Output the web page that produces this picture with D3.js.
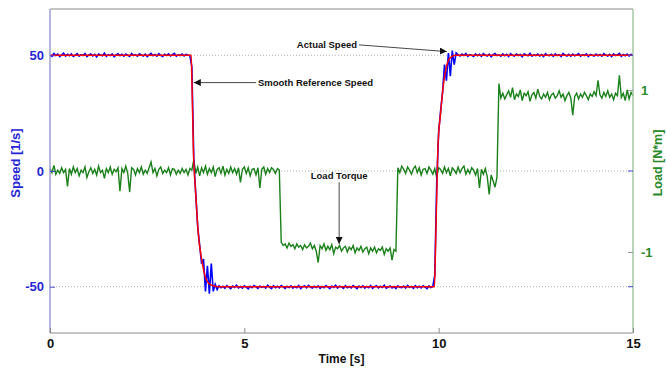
<!DOCTYPE html>
<html>
<head>
<meta charset="utf-8">
<script src="https://cdn.jsdelivr.net/npm/d3@7/dist/d3.min.js"></script>
<style>
  body { margin: 0; background: #fff; }
  svg { display: block; font-family: "Liberation Sans", Arial, sans-serif; }
</style>
</head>
<body>
<div id="chart"></div>
<script>
// sample step of the measured signals [s]
var dt = 0.05;

// actual speed [1/s], one value every dt
var actualSpeed = [
  50.3, 49.6, 50.8, 49.9, 50.5, 49.4, 50.2, 50.9, 49.7, 50.4, 49.8, 50.6, 49.5, 50.1, 50.7, 49.6, 50.3, 49.9, 50.8, 49.5,
  50.2, 50.6, 49.7, 50.4, 49.3, 50.5, 50.1, 49.8, 50.9, 49.6, 50.3, 49.9, 50.6, 49.4, 50.2, 50.7, 49.8, 50.4, 49.6, 50.5,
  50.0, 49.5, 50.8, 49.9, 50.3, 49.6, 50.6, 50.1, 49.7, 50.5, 49.4, 50.2, 50.8, 49.8, 50.3, 49.6, 50.7, 50.0, 49.5, 50.4,
  49.9, 50.6, 49.7, 50.3, 50.8, 49.6, 50.2, 49.9, 50.5, 49.7, 50.4, 50.1, 49.8,
  45, 5, -10, -24, -32, -40, -38, -52, -41, -53, -40, -52, -49, -51.2,
  -49.6, -50.4, -49.8, -50.7, -49.5, -50.2, -50.8, -49.7, -50.3, -49.4,
  -50.5, -49.9, -50.6, -49.6, -50.2, -50.9, -49.8, -50.4, -49.5, -50.1,
  -50.7, -49.7, -50.3, -49.9, -50.6, -49.4, -50.2, -50.8, -49.6, -50.4,
  -49.8, -50.5, -49.5, -50.1, -50.7, -49.8, -50.3, -49.6, -50.6, -49.9,
  -50.4, -49.5, -50.8, -50.0, -49.7, -50.5, -49.4, -50.2, -50.6, -49.8,
  -50.3, -49.6, -50.7, -49.9, -50.4, -49.5, -50.2, -50.8, -49.7, -50.3,
  -49.4, -50.6, -49.8, -50.1, -50.7, -49.6, -50.4, -49.9, -50.5, -49.5,
  -50.2, -50.8, -49.7, -50.3, -49.6, -50.6, -49.9, -50.4, -49.5, -50.7,
  -50.0, -49.6, -50.5, -49.8, -50.3, -49.4, -50.6, -50.1, -49.7, -50.5,
  -49.9, -50.8, -49.6, -50.2, -50.4, -49.7, -50.6, -49.5, -50.3, -49.9,
  -50.7, -49.6, -50.4, -49.8, -50.5, -49.6, -50.2, -50.8, -49.7, -50.4, -49.9,
  -45, -5, 17, 26, 34, 46, 39, 51, 41, 52, 46, 51, 50.2,
  49.7, 50.5, 49.9, 50.8, 49.6, 50.3, 50.0, 49.5, 50.6, 49.8,
  50.4, 49.6, 50.7, 50.1, 49.7, 50.5, 49.4, 50.3, 50.8, 49.9,
  50.2, 49.6, 50.6, 49.8, 50.4, 49.5, 50.7, 50.0, 49.7, 50.5,
  49.9, 50.3, 49.4, 50.6, 50.1, 49.8, 50.8, 49.6, 50.2, 49.9,
  50.5, 49.7, 50.3, 49.5, 50.7, 50.0, 49.8, 50.4, 49.6, 50.6,
  49.9, 50.3, 49.5, 50.8, 50.1, 49.7, 50.4, 49.6, 50.5, 49.8,
  50.2, 50.7, 49.6, 50.3, 49.9, 50.6, 49.5, 50.4, 50.0, 49.7,
  50.5, 49.8, 50.3, 49.6, 50.7, 50.1, 49.7, 50.4, 49.5, 50.6,
  49.9, 50.2, 50.8, 49.6, 50.3, 49.8, 50.5, 49.7, 50.4, 50.1
];

// load torque [N*m], one value every dt
var loadTorque = [
  0.03, -0.02, 0.07, -0.04, 0.01, -0.03, 0.04, -0.02, 0.02, -0.19, 0.03, -0.04, 0.05, -0.02, 0.03, -0.06, 0.01, -0.02, 0.05, -0.08,
  -0.01, 0.04, -0.03, 0.02, -0.05, 0.06, -0.02, 0.01, -0.09, 0.03, -0.02, 0.05, -0.04, 0.02, -0.01, 0.04, -0.25, 0.03, -0.02, 0.06,
  -0.03, -0.26, 0.04, 0.02, -0.05, 0.03, -0.02, 0.05, -0.04, 0.01, -0.03, 0.04, 0.11, -0.02, 0.03, -0.06, 0.02, 0.05, -0.03, 0.01,
  -0.02, 0.04, -0.05, 0.03, 0.02, -0.04, 0.01, -0.03, 0.03, -0.02, 0.02, -0.05, 0.03, 0.01, 0.14, -0.03, 0.05, -0.06, 0.04, -0.02,
  0.06, -0.04, 0.03, -0.02, 0.05, -0.07, 0.02, 0.04, -0.03, 0.06, -0.05, 0.02, -0.03, 0.05, -0.02, 0.03, -0.04, 0.04, -0.14, 0.02,
  0.05, -0.03, 0.04, -0.06, 0.02, 0.03, -0.05, 0.04, -0.21, 0.02, 0.05, -0.04, 0.03, -0.02, 0.04, 0.02, -0.03, 0.03, 0.01,
  -0.88, -0.92, -0.90, -0.95, -0.89, -0.93, -0.91, -0.96, -0.90, -0.94, -0.92, -0.97, -0.91, -0.95, -0.93, -0.89, -0.96, -0.92, -0.99, -1.13,
  -0.92, -0.96, -0.90, -0.98, -0.93, -0.97, -0.91, -1.02, -0.94, -0.96, -0.92, -0.99, -0.95, -0.93, -1.00, -0.94, -0.97, -0.92, -1.01, -0.95,
  -0.98, -0.93, -1.00, -0.96, -0.94, -1.02, -0.95, -0.99, -0.94, -1.01, -0.96, -0.98, -0.94, -1.03, -0.96, -0.99, -0.95, -1.10, -0.97, -0.99,
  0.04, -0.02, 0.06, 0.02, -0.03, 0.05, 0.01, -0.04, 0.03, 0.06, -0.02, 0.04, -0.05, 0.02, 0.03, -0.03, 0.05, 0.01, -0.04, 0.03,
  -0.08, 0.04, 0.02, -0.03, 0.05, -0.02, 0.03, -0.06, 0.04, 0.01, -0.03, 0.05, -0.02, 0.03, 0.06, -0.04, 0.02, -0.03, 0.04, 0.01,
  -0.05, 0.03, -0.21, 0.02, -0.04, 0.03, -0.07, -0.29, -0.05, -0.12, -0.20, -0.08,
  1.08, 0.90, 0.96, 0.89, 0.94, 0.99, 0.91, 1.03, 0.88, 0.95, 0.92, 1.00, 0.87, 0.96, 0.93, 0.98, 0.86, 0.94, 0.97, 0.90,
  1.01, 0.92, 0.89, 0.95, 0.91, 0.97, 0.88, 0.94, 0.96, 0.90, 0.93, 0.99, 0.91, 0.95, 0.87, 0.93, 0.97, 0.90, 0.69, 0.92,
  0.96, 0.89, 0.95, 0.91, 0.97, 0.93, 0.88, 0.95, 0.92, 0.98, 0.93, 1.12, 0.94, 0.90, 0.97, 0.92, 0.99, 0.91, 0.95, 0.88,
  0.96, 0.93, 1.18, 0.91, 0.96, 0.87, 1.00, 0.89, 0.97, 0.93
];

// smooth reference speed, breakpoints
var refTime  = [0, 3.63, 3.65, 3.69, 3.75, 3.82, 3.90, 4.00, 4.10, 4.20, 4.35, 9.89, 9.91, 9.98, 10.05, 10.12, 10.20, 10.29, 10.42, 15];
var refSpeed = [50, 50, 40, 9, -10, -28, -38, -46, -48.8, -49.6, -50, -50, -40, 10, 25, 37, 45, 48.8, 50, 50];

var timeTicks = [0, 5, 10, 15];
var speedTicks = [-50, 0, 50];
var loadTicks = [-1, 1];

var width = 666, height = 368;
var margin = { top: 9, right: 33, bottom: 35, left: 50 };

var x = d3.scaleLinear().domain([0, 15]).range([margin.left, width - margin.right]);
var ySpeed = d3.scaleLinear().domain([-70, 70]).range([height - margin.bottom, margin.top]);
var yLoad = d3.scaleLinear().domain([-2, 2]).range([height - margin.bottom, margin.top]);

var blue = "#0000ff", red = "#ff0000", green = "#1a801a";
var plain = function (d) { return String(d); };   // keep "-" rather than the unicode minus

var svg = d3.select("#chart").append("svg")
    .attr("width", width)
    .attr("height", height);

var x0 = x.range()[0], x1 = x.range()[1];
var yTop = ySpeed.range()[1], yBot = ySpeed.range()[0];

// dotted grid
svg.append("g").selectAll("line").data(speedTicks).enter()
    .append("line")
    .attr("x1", x0).attr("x2", x1)
    .attr("y1", function (d) { return ySpeed(d); })
    .attr("y2", function (d) { return ySpeed(d); })
    .style("stroke", "#b0b0b0")
    .style("stroke-width", 1)
    .style("stroke-dasharray", "1,2");

// signals
var loadLine = d3.line()
    .x(function (d, i) { return x(i * dt); })
    .y(function (d) { return yLoad(d); });
var speedLine = d3.line()
    .x(function (d, i) { return x(i * dt); })
    .y(function (d) { return ySpeed(d); });
var refLine = d3.line()
    .x(function (d, i) { return x(refTime[i]); })
    .y(function (d) { return ySpeed(d); })
    .curve(d3.curveMonotoneX);

svg.append("path").datum(loadTorque)
    .attr("d", loadLine)
    .style("fill", "none").style("stroke", green).style("stroke-width", 1.4);
svg.append("path").datum(actualSpeed)
    .attr("d", speedLine)
    .style("fill", "none").style("stroke", blue).style("stroke-width", 1.6);
svg.append("path").datum(refSpeed)
    .attr("d", refLine)
    .style("fill", "none").style("stroke", red).style("stroke-width", 1.5);

// frame
svg.append("line").attr("x1", x0).attr("x2", x1).attr("y1", yTop).attr("y2", yTop)
    .style("stroke", "#8a8a8a");
svg.append("line").attr("x1", x0).attr("x2", x1).attr("y1", yBot).attr("y2", yBot)
    .style("stroke", "#8a8a8a");
svg.append("line").attr("x1", x0).attr("x2", x0).attr("y1", yTop).attr("y2", yBot)
    .style("stroke", "#9d9dd2").style("stroke-width", 1.5);
svg.append("line").attr("x1", x1).attr("x2", x1).attr("y1", yTop).attr("y2", yBot)
    .style("stroke", "#a3c9a3").style("stroke-width", 1.5);

// speed axis (left, mirrored ticks on right)
var leftAxis = svg.append("g")
    .attr("transform", "translate(" + x0 + ",0)")
    .call(d3.axisLeft(ySpeed).tickValues(speedTicks).tickSize(-5).tickPadding(6).tickFormat(plain));
leftAxis.select(".domain").remove();
leftAxis.selectAll("line").style("stroke", "#4b4bd8");
leftAxis.selectAll("text")
    .style("font-size", "13px").style("font-weight", "bold").style("fill", "#2626d4");

svg.append("g").selectAll("line").data(speedTicks).enter()
    .append("line")
    .attr("x1", x1 - 5).attr("x2", x1)
    .attr("y1", function (d) { return ySpeed(d); })
    .attr("y2", function (d) { return ySpeed(d); })
    .style("stroke", "#4b4bd8");

// load axis (right)
var rightAxis = svg.append("g")
    .attr("transform", "translate(" + x1 + ",0)")
    .call(d3.axisRight(yLoad).tickValues(loadTicks).tickSize(-5).tickPadding(8).tickFormat(plain));
rightAxis.select(".domain").remove();
rightAxis.selectAll("line").style("stroke", "#9a9a9a");
rightAxis.selectAll("text")
    .style("font-size", "13px").style("font-weight", "bold").style("fill", "#2a8a2a");

// time axis
var bottomAxis = svg.append("g")
    .attr("transform", "translate(0," + yBot + ")")
    .call(d3.axisBottom(x).tickValues(timeTicks).tickSize(-5).tickPadding(6).tickFormat(plain));
bottomAxis.select(".domain").remove();
bottomAxis.selectAll("line").style("stroke", "#8a8a8a");
bottomAxis.selectAll("text")
    .style("font-size", "13px").style("font-weight", "bold").style("fill", "#111");

// axis labels
svg.append("text")
    .attr("x", (x0 + x1) / 2).attr("y", 363)
    .attr("text-anchor", "middle")
    .style("font-size", "12px").style("font-weight", "bold").style("fill", "#111")
    .text("Time [s]");
svg.append("text")
    .attr("transform", "translate(20,163) rotate(-90)")
    .attr("text-anchor", "middle")
    .style("font-size", "13px").style("font-weight", "bold").style("fill", "#2626d4")
    .text("Speed [1/s]");
svg.append("text")
    .attr("transform", "translate(662,163) rotate(-90)")
    .attr("text-anchor", "middle")
    .style("font-size", "12.5px").style("font-weight", "bold").style("fill", "#2a8a2a")
    .text("Load [N*m]");

// annotations
svg.append("defs").append("marker")
    .attr("id", "arrow")
    .attr("viewBox", "0 0 10 10")
    .attr("refX", 10).attr("refY", 5)
    .attr("markerWidth", 7).attr("markerHeight", 7)
    .attr("markerUnits", "userSpaceOnUse")
    .attr("orient", "auto")
    .append("path").attr("d", "M0,0L10,5L0,10Z").style("fill", "#111");

function note(label, tx, ty, anchor, from, to) {
    svg.append("text")
        .attr("x", tx).attr("y", ty)
        .attr("dy", "0.35em")
        .attr("text-anchor", anchor)
        .style("font-size", "9.5px").style("font-weight", "bold").style("fill", "#111")
        .text(label);
    svg.append("line")
        .attr("x1", from[0]).attr("y1", from[1])
        .attr("x2", to[0]).attr("y2", to[1])
        .style("stroke", "#333").style("stroke-width", 0.9)
        .attr("marker-end", "url(#arrow)");
}

note("Actual Speed", x(7.9), ySpeed(54.5), "end",
     [x(7.95), ySpeed(54.5)], [x(10.21), ySpeed(51.6)]);
note("Smooth Reference Speed", x(5.35), ySpeed(38.2), "start",
     [x(5.3), ySpeed(38.2)], [x(3.7), ySpeed(38.2)]);
note("Load Torque", x(7.44), yLoad(-0.06), "middle",
     [x(7.44), yLoad(-0.14)], [x(7.44), yLoad(-0.9)]);
</script>
</body>
</html>
